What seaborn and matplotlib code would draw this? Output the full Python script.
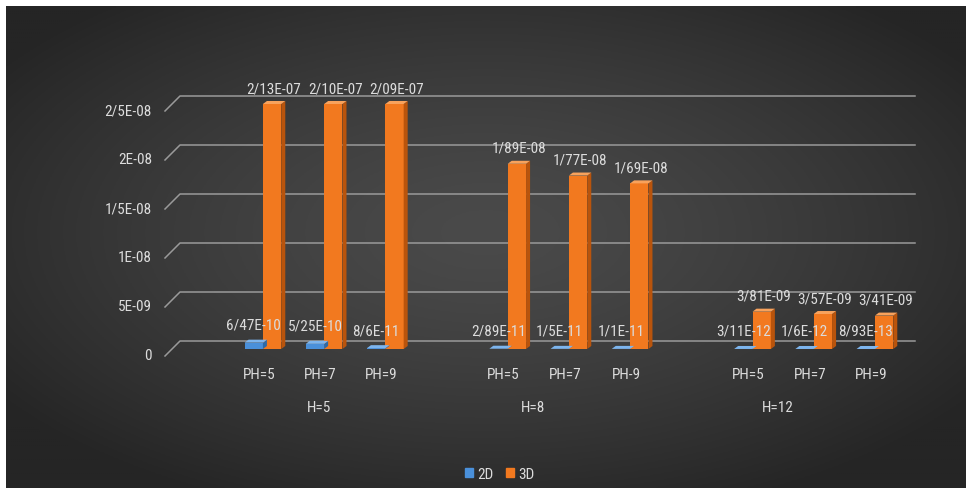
import numpy as np
import pandas as pd
import matplotlib
matplotlib.use("Agg")
import matplotlib.pyplot as plt
from matplotlib import font_manager
from matplotlib.patches import Polygon, Patch
import seaborn as sns

# ---- data -------------------------------------------------------------
h_groups = ["H=5", "H=8", "H=12"]
row_group = ["H=5", "H=5", "H=5", "H=8", "H=8", "H=8", "H=12", "H=12", "H=12"]
ph_labels = ["PH=5", "PH=7", "PH=9", "PH=5", "PH=7", "PH-9", "PH=5", "PH=7", "PH=9"]
series = ["2D", "3D"]
values_2d = [6.47e-10, 5.25e-10, 8.6e-11, 2.89e-11, 1.5e-11, 1.1e-11, 3.11e-12, 1.6e-12, 8.93e-13]
values_3d = [2.13e-07, 2.10e-07, 2.09e-07, 1.89e-08, 1.77e-08, 1.69e-08, 3.81e-09, 3.57e-09, 3.41e-09]
labels_2d = ["6/47E-10", "5/25E-10", "8/6E-11", "2/89E-11", "1/5E-11", "1/1E-11",
             "3/11E-12", "1/6E-12", "8/93E-13"]
labels_3d = ["2/13E-07", "2/10E-07", "2/09E-07", "1/89E-08", "1/77E-08", "1/69E-08",
             "3/81E-09", "3/57E-09", "3/41E-09"]
y_ticks = [0, 5e-9, 1e-8, 1.5e-8, 2e-8, 2.5e-8]
y_tick_labels = ["0", "5E-09", "1E-08", "1/5E-08", "2E-08", "2/5E-08"]


# ---- style ------------------------------------------------------------
def pick_font(candidates):
    for name in candidates:
        try:
            font_manager.findfont(font_manager.FontProperties(family=name),
                                  fallback_to_default=False)
            return name
        except ValueError:
            continue
    return "DejaVu Sans"


FONT = pick_font(["Liberation Sans Narrow", "Roboto Condensed", "Roboto",
                  "Open Sans", "DejaVu Sans"])
plt.rcParams["font.family"] = [FONT, "DejaVu Sans"]

TEXT = "#dcdcdc"
GRID = "#9a9a9a"
BLUE = {"front": "#4a90da", "side": "#2d6aa8", "top": "#7db5ee"}
ORANGE = {"front": "#f2791f", "side": "#b9540c", "top": "#f8a25c"}
FACES = {"2D": BLUE, "3D": ORANGE}
FS = 11

W, H = 969, 489
fig = plt.figure(figsize=(W / 100, H / 100), dpi=100, facecolor="white")

# dark panel with a soft radial gradient
bg = fig.add_axes([6 / W, 0, 960 / W, 482 / H])
gy, gx = np.mgrid[0:1:240j, 0:1:480j]
r = np.sqrt(((gx - 0.5) / 0.62) ** 2 + ((gy - 0.47) / 0.62) ** 2)
t = np.clip(r, 0, 1) ** 1.4
centre = np.array([0x4a, 0x4a, 0x4a]) / 255
edge = np.array([0x25, 0x25, 0x25]) / 255
img = centre[None, None, :] * (1 - t[..., None]) + edge[None, None, :] * t[..., None]
bg.imshow(img, aspect="auto", extent=(0, 1, 0, 1), origin="upper")
bg.set_axis_off()

# plotting area (front plane of the 3-D box)
ax = fig.add_axes([165 / W, (H - 350) / H, 735 / W, 245 / H])
ax.patch.set_visible(False)

# category order: each later group gets one empty slot in front of it
keys = [f"{g}|{p}|{i}" for i, (g, p) in enumerate(zip(row_group, ph_labels))]
order, group_slots = [], {}
for gi, g in enumerate(h_groups):
    slots = []
    if gi > 0:
        order.append(f"gap{gi}")
        slots.append(len(order) - 1)
    for k, rg in zip(keys, row_group):
        if rg == g:
            order.append(k)
            slots.append(len(order) - 1)
    group_slots[g] = slots

df = pd.DataFrame({
    "key": keys * 2,
    "value": values_2d + values_3d,
    "series": ["2D"] * len(keys) + ["3D"] * len(keys),
})

sns.barplot(data=df, x="key", y="value", hue="series", order=order,
            hue_order=series, palette=[BLUE["front"], ORANGE["front"]],
            width=0.6, saturation=1, dodge=True, errorbar=None, legend=False,
            linewidth=0, ax=ax, zorder=3)

ax.set_xlim(-1.6, len(order) - 1 + 0.41)
ax.set_ylim(0, 2.5e-8)
for s in ax.spines.values():
    s.set_visible(False)
ax.set_xticks([])
ax.set_yticks([])
ax.set_xlabel("")
ax.set_ylabel("")

# pixel -> data scale for the depth effect
x0l, x1l = ax.get_xlim()
y0l, y1l = ax.get_ylim()
px_x = (x1l - x0l) / 735
px_y = (y1l - y0l) / 245
dx, dy = 4 * px_x, 3 * px_y

# back-wall gridlines with the diagonal return to the front plane
inv = ax.transData.inverted()
X0 = ax.transAxes.transform((0, 0))[0]
X1 = ax.transAxes.transform((1, 0))[0]
for v, lab in zip(y_ticks, y_tick_labels):
    Y = ax.transData.transform((0, v))[1]
    pts = inv.transform([(X0, Y - 7), (X0 + 15, Y + 8), (X1 + 15, Y + 8)])
    ax.plot(pts[:, 0], pts[:, 1], color=GRID, lw=1.1, clip_on=False, zorder=1)
    ax.annotate(lab, xy=(0, v), xycoords=("axes fraction", "data"),
                xytext=(-13, -6), textcoords="offset pixels", ha="right",
                va="center", color=TEXT, fontsize=FS)

# side and top faces, plus value labels
for cont, name, labels in zip(ax.containers, series, [labels_2d, labels_3d]):
    faces = FACES[name]
    bars = sorted(cont.patches, key=lambda p: p.get_x())
    for bar, lab in zip(bars, labels):
        bx, bw = bar.get_x(), bar.get_width()
        top = min(bar.get_height(), y1l)
        side = Polygon([(bx + bw, 0), (bx + bw + dx, dy), (bx + bw + dx, top + dy),
                        (bx + bw, top)], closed=True, facecolor=faces["side"],
                       edgecolor="none", clip_on=False, zorder=3)
        cap = Polygon([(bx, top), (bx + bw, top), (bx + bw + dx, top + dy),
                       (bx + dx, top + dy)], closed=True, facecolor=faces["top"],
                      edgecolor="none", clip_on=False, zorder=3)
        ax.add_patch(side)
        ax.add_patch(cap)
        off = 16 if name == "3D" else 18
        ax.annotate(lab, xy=(bx + bw / 2, top), xytext=(2 if name == "3D" else 0, off),
                    textcoords="offset pixels", ha="center", va="center",
                    color=TEXT, fontsize=FS, zorder=6, annotation_clip=False)

# category labels: PH level and H level
for k, ph in zip(keys, ph_labels):
    pos = order.index(k)
    ax.annotate(ph, xy=(pos, 0), xycoords=("data", "axes fraction"),
                xytext=(-4, -25), textcoords="offset pixels", ha="center",
                va="center", color=TEXT, fontsize=FS)
for g in h_groups:
    pos = float(np.mean(group_slots[g]))
    ax.annotate(g, xy=(pos, 0), xycoords=("data", "axes fraction"),
                xytext=(-5, -58), textcoords="offset pixels", ha="center",
                va="center", color=TEXT, fontsize=FS)

fig.legend(handles=[Patch(color=BLUE["front"]), Patch(color=ORANGE["front"])],
           labels=series, loc="center", bbox_to_anchor=(500 / W, 1 - 475 / H),
           ncol=2, frameon=False, handlelength=0.5, handleheight=0.5,
           handletextpad=0.3, columnspacing=0.8, labelcolor=TEXT, fontsize=FS)

fig.savefig("out.png", dpi=100, facecolor="white")
